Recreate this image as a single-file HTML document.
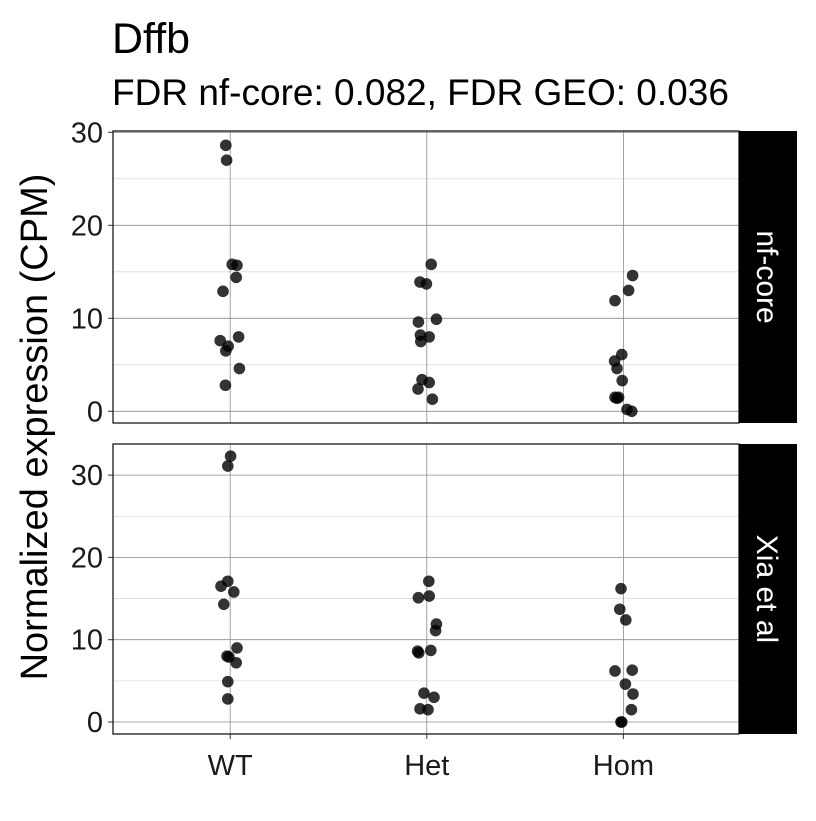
<!DOCTYPE html>
<html><head><meta charset="utf-8"><style>
html,body{margin:0;padding:0;background:#fff;}
svg text{font-family:"Liberation Sans",Arial,sans-serif;}
</style></head><body>
<svg id="chart" width="816" height="816" xmlns="http://www.w3.org/2000/svg">
<text x="112" y="53" font-size="43">Dffb</text>
<text x="112" y="105" font-size="37">FDR nf-core: 0.082, FDR GEO: 0.036</text>
<text transform="translate(47,427) rotate(-90)" text-anchor="middle" font-size="38">Normalized expression (CPM)</text>
<g id="plot"></g>
</svg>
<script>
const categories = ["WT","Het","Hom"];
const panelNames = ["nf-core","Xia et al"];
const yTicks = [0,10,20,30];
const yMinor = [5,15,25];
// panel 1 (nf-core) values and jitter
const nfWT = [28.6,27.0,15.8,15.7,14.4,12.9,8.0,7.6,7.0,6.5,4.6,2.8];
const nfWTj = [-4.4,-3.6,2,6.8,6,-7.2,8.4,-10,-2,-4.4,9.2,-4.8];
const nfHet = [15.8,13.9,13.7,9.9,9.6,8.2,8.0,7.5,3.4,3.1,2.4,1.3];
const nfHetj = [4.4,-6.8,-0.4,9.6,-8.4,-6.4,2.4,-6,-4.8,2.4,-8.8,5.6];
const nfHom = [14.6,13.0,11.9,6.1,5.4,4.6,3.3,1.5,1.5,1.4,0.2,0.0];
const nfHomj = [9.2,5.2,-8.4,-1.6,-8.8,-6.4,-1.2,-8.4,-4.8,-6.4,3.6,8.4];
// panel 2 (Xia et al)
const xiaWT = [32.3,31.1,17.1,16.5,15.8,14.3,9.0,8.0,7.9,7.2,4.9,2.8];
const xiaWTj = [0.4,-2.4,-2.4,-9.2,3.6,-6.4,6.8,-3.2,-1.2,6,-2.4,-2.4];
const xiaHet = [17.1,15.1,15.3,11.9,11.1,8.6,8.4,8.7,3.5,3.0,1.6,1.5];
const xiaHetj = [2,-8.4,2.4,9.6,8.8,-9.2,-8,4,-2.8,7.2,-6.8,1.2];
const xiaHom = [16.2,13.7,12.4,6.2,6.3,4.6,3.4,1.5,0,0];
const xiaHomj = [-2.4,-3.6,2.4,-8.4,8.8,2,9.6,8,-2.4,-1.6];

const NS="http://www.w3.org/2000/svg";
const root=document.getElementById('plot');
function mk(tag,attrs,parent){const e=document.createElementNS(NS,tag);for(const k in attrs)e.setAttribute(k,attrs[k]);(parent||root).appendChild(e);return e;}
const X0=113,X1=739;
const catX=i=>230.2+i*196.6;
const panels=[
 {top:131,bot:423,zero:411.3,ppu:9.3,vals:[nfWT,nfHet,nfHom],jit:[nfWTj,nfHetj,nfHomj]},
 {top:444,bot:734,zero:722,ppu:8.23,vals:[xiaWT,xiaHet,xiaHom],jit:[xiaWTj,xiaHetj,xiaHomj]}
];
panels.forEach((p,pi)=>{
  const y=v=>p.zero-v*p.ppu;
  const g=mk('g',{});
  
  
  yMinor.forEach(t=>{if(y(t)>p.top){const l=mk('line',{x1:X0,x2:X1,y1:y(t),y2:y(t),stroke:'#dcdcdc','stroke-width':0.8},g);
    }});
  yTicks.forEach(t=>{if(y(t)>p.top){const l=mk('line',{x1:X0,x2:X1,y1:y(t),y2:y(t),stroke:'#8c8c8c','stroke-width':0.8},g);
    
    mk('line',{x1:X0-5,x2:X0,y1:y(t),y2:y(t),stroke:'#333','stroke-width':1},g);
    const tx=mk('text',{x:X0-10,y:y(t)+10,'text-anchor':'end','font-size':29,fill:'#1a1a1a'},g);tx.textContent=t;
    }});
  categories.forEach((c,i)=>{const l=mk('line',{x1:catX(i),x2:catX(i),y1:p.top,y2:p.bot,stroke:'#8c8c8c','stroke-width':0.8},g);
    });
  p.vals.forEach((arr,ci)=>{arr.forEach((v,k)=>{
    const c=mk('circle',{cx:catX(ci)+p.jit[ci][k],cy:y(v),r:5.8,fill:'#000','fill-opacity':0.8},g);
    
    });});
  const b=mk('rect',{x:X0,y:p.top,width:X1-X0,height:p.bot-p.top,fill:'none',stroke:'#1a1a1a','stroke-width':1.3},g);
  
  const s=mk('rect',{x:739,y:p.top,width:58,height:p.bot-p.top,fill:'#000'},g);
  
  const st=mk('text',{transform:`translate(757,${(p.top+p.bot)/2}) rotate(90)`,'text-anchor':'middle','font-size':30,fill:'#fff'},g);
  st.textContent=panelNames[pi];
  
});
categories.forEach((c,i)=>{
  mk('line',{x1:catX(i),x2:catX(i),y1:734,y2:739,stroke:'#333','stroke-width':1});
  const t=mk('text',{x:catX(i),y:775,'text-anchor':'middle','font-size':29,fill:'#1a1a1a'});t.textContent=c;
  
  
});
</script>
</body></html>
